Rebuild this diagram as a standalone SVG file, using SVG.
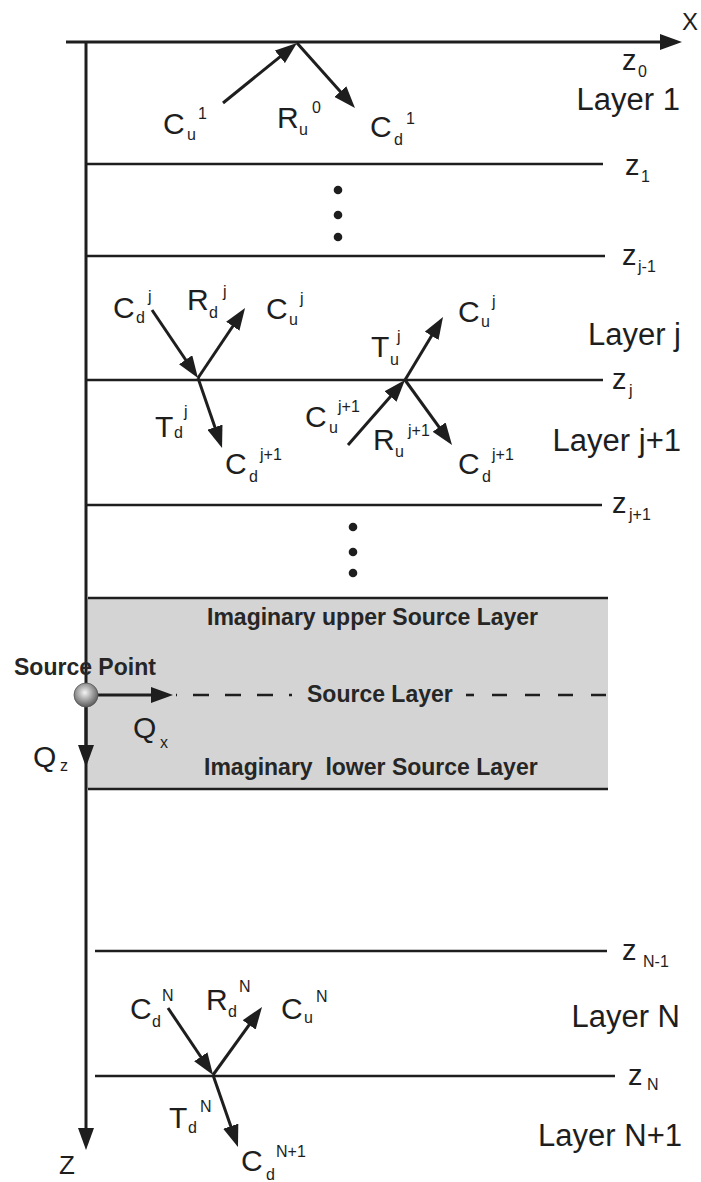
<svg xmlns="http://www.w3.org/2000/svg" width="701" height="1182" viewBox="0 0 701 1182">
<style>
  text { font-family: "Liberation Sans", Arial, sans-serif; fill: #1e1e1e; }
  .m { font-size: 30px; }
  .s { font-size: 16px; }
  .zl { font-size: 29px; }
  .lay { font-size: 31px; text-anchor: end; }
  .b { font-size: 23px; font-weight: bold; fill: #262626; }
  .ln { stroke: #1e1e1e; stroke-width: 2.6; fill: none; }
  .ar { stroke: #1e1e1e; stroke-width: 3; fill: none; marker-end: url(#ah); }
  .dot { fill: #1e1e1e; }
</style>
<defs>
  <marker id="ah" markerUnits="userSpaceOnUse" viewBox="0 0 22 16" markerWidth="22" markerHeight="16" refX="16" refY="8" orient="auto">
    <path d="M0,0 L22,8 L0,16 z" fill="#1e1e1e"/>
  </marker>
  <radialGradient id="ball" cx="0.45" cy="0.4" r="0.6">
    <stop offset="0" stop-color="#f4f4f4"/>
    <stop offset="0.5" stop-color="#a8a8a8"/>
    <stop offset="1" stop-color="#5a5a5a"/>
  </radialGradient>
</defs>
<rect width="701" height="1182" fill="#ffffff"/>

<g id="source-region">
  <rect x="86" y="598" width="522" height="191" fill="#d4d4d4"/>
  <line class="ln" x1="88" y1="598" x2="608" y2="598"/>
  <line class="ln" x1="88" y1="789" x2="608" y2="789"/>
  <line class="ln" x1="176" y1="695" x2="292" y2="695" stroke-dasharray="16 16" stroke-dashoffset="15"/>
  <line class="ln" x1="466" y1="695" x2="474" y2="695"/>
  <line class="ln" x1="492" y1="695" x2="608" y2="695" stroke-dasharray="15 18"/>
  <text class="b" x="207" y="625">Imaginary upper Source Layer</text>
  <text class="b" x="307" y="702">Source Layer</text>
  <text class="b" x="204" y="775" xml:space="preserve">Imaginary  lower Source Layer</text>
</g>

<g id="interfaces">
  <line class="ln" x1="86" y1="164" x2="603" y2="164"/>
  <line class="ln" x1="86" y1="256" x2="605" y2="256"/>
  <line class="ln" x1="86" y1="380" x2="603" y2="380"/>
  <line class="ln" x1="86" y1="505" x2="602" y2="505"/>
  <line class="ln" x1="95" y1="951" x2="607" y2="951"/>
  <line class="ln" x1="95" y1="1076" x2="615" y2="1076"/>
</g>

<g id="ellipsis">
  <circle class="dot" cx="338" cy="190" r="4.3"/>
  <circle class="dot" cx="338" cy="215" r="4.3"/>
  <circle class="dot" cx="338" cy="237" r="4.3"/>
  <circle class="dot" cx="353" cy="527" r="4.3"/>
  <circle class="dot" cx="353" cy="552" r="4.3"/>
  <circle class="dot" cx="353" cy="573" r="4.3"/>
</g>

<g id="connectors">
  <line class="ar" x1="66" y1="42" x2="676" y2="42"/>
  <line class="ar" x1="86" y1="42" x2="86" y2="1144"/>
  <line class="ar" x1="86" y1="707" x2="86" y2="761"/>
  <line class="ar" x1="97" y1="695" x2="167" y2="695"/>
  <line class="ar" x1="223" y1="103" x2="292.3" y2="46.8"/>
  <line class="ar" x1="297" y1="43" x2="351" y2="103.5"/>
  <line class="ar" x1="152" y1="310" x2="194.6" y2="373"/>
  <line class="ar" x1="198" y1="378" x2="241.7" y2="313"/>
  <line class="ar" x1="198" y1="378" x2="220.1" y2="442.3"/>
  <line class="ar" x1="348" y1="445" x2="401" y2="384.5"/>
  <line class="ar" x1="405" y1="380" x2="439.9" y2="322.1"/>
  <line class="ar" x1="405" y1="380" x2="448.5" y2="440.1"/>
  <line class="ar" x1="168" y1="1008" x2="209.7" y2="1070"/>
  <line class="ar" x1="213" y1="1075" x2="258.5" y2="1011.9"/>
  <line class="ar" x1="213" y1="1075" x2="236" y2="1141.3"/>
</g>

<g id="source-point">
  <circle cx="86" cy="695" r="12" fill="url(#ball)" stroke="#555" stroke-width="0.8"/>
  <text class="b" x="14" y="675">Source Point</text>
  <text><tspan class="m" x="133" y="738">Q</tspan><tspan class="s" x="160" y="748">x</tspan></text>
  <text><tspan class="m" x="33" y="767">Q</tspan><tspan class="s" x="60" y="771">z</tspan></text>
</g>

<g id="axis-labels">
  <text x="682" y="30" style="font-size:24px">X</text>
  <text x="59" y="1174" style="font-size:26px">Z</text>
</g>

<g id="depth-labels">
  <text><tspan class="zl" x="622" y="70">z</tspan><tspan class="s" x="638" y="77">0</tspan></text>
  <text><tspan class="zl" x="625" y="175">z</tspan><tspan class="s" x="641" y="182">1</tspan></text>
  <text><tspan class="zl" x="622" y="265">z</tspan><tspan class="s" x="638" y="272">j-1</tspan></text>
  <text><tspan class="zl" x="612" y="389">z</tspan><tspan class="s" x="629" y="396">j</tspan></text>
  <text><tspan class="zl" x="612" y="513">z</tspan><tspan class="s" x="629" y="520">j+1</tspan></text>
  <text><tspan class="zl" x="622" y="960">z</tspan><tspan class="s" x="643" y="967">N-1</tspan></text>
  <text><tspan class="zl" x="628" y="1085">z</tspan><tspan class="s" x="647" y="1090">N</tspan></text>
</g>

<g id="layer-labels">
  <text class="lay" x="680" y="110">Layer 1</text>
  <text class="lay" x="681" y="345">Layer j</text>
  <text class="lay" x="681" y="451">Layer j+1</text>
  <text class="lay" x="680" y="1027">Layer N</text>
  <text class="lay" x="682" y="1146">Layer N+1</text>
</g>

<g id="wave-labels-top">
  <text><tspan class="m" x="163" y="134">C</tspan><tspan class="s" x="187" y="140">u</tspan><tspan class="s" x="198" y="119">1</tspan></text>
  <text><tspan class="m" x="277" y="128">R</tspan><tspan class="s" x="299" y="135">u</tspan><tspan class="s" x="312" y="113">0</tspan></text>
  <text><tspan class="m" x="370" y="137">C</tspan><tspan class="s" x="394" y="145">d</tspan><tspan class="s" x="406" y="124">1</tspan></text>
</g>

<g id="wave-labels-j">
  <text><tspan class="m" x="113" y="318">C</tspan><tspan class="s" x="136" y="323">d</tspan><tspan class="s" x="148" y="302">j</tspan></text>
  <text><tspan class="m" x="187" y="310">R</tspan><tspan class="s" x="209" y="318">d</tspan><tspan class="s" x="223" y="297">j</tspan></text>
  <text><tspan class="m" x="266" y="319">C</tspan><tspan class="s" x="289" y="325">u</tspan><tspan class="s" x="300" y="304">j</tspan></text>
  <text><tspan class="m" x="155" y="437">T</tspan><tspan class="s" x="174" y="438">d</tspan><tspan class="s" x="184" y="417">j</tspan></text>
  <text><tspan class="m" x="225" y="474">C</tspan><tspan class="s" x="249" y="482">d</tspan><tspan class="s" x="260" y="460">j+1</tspan></text>
  <text><tspan class="m" x="371" y="357">T</tspan><tspan class="s" x="390" y="365">u</tspan><tspan class="s" x="397" y="342">j</tspan></text>
  <text><tspan class="m" x="458" y="322">C</tspan><tspan class="s" x="481" y="327">u</tspan><tspan class="s" x="492" y="307">j</tspan></text>
  <text><tspan class="m" x="305" y="427">C</tspan><tspan class="s" x="329" y="433">u</tspan><tspan class="s" x="338" y="412">j+1</tspan></text>
  <text><tspan class="m" x="373" y="450">R</tspan><tspan class="s" x="395" y="457">u</tspan><tspan class="s" x="408" y="436">j+1</tspan></text>
  <text><tspan class="m" x="458" y="474">C</tspan><tspan class="s" x="482" y="482">d</tspan><tspan class="s" x="492" y="460">j+1</tspan></text>
</g>

<g id="wave-labels-N">
  <text><tspan class="m" x="130" y="1019">C</tspan><tspan class="s" x="152" y="1027">d</tspan><tspan class="s" x="162" y="1001">N</tspan></text>
  <text><tspan class="m" x="206" y="1010">R</tspan><tspan class="s" x="228" y="1017">d</tspan><tspan class="s" x="239" y="992">N</tspan></text>
  <text><tspan class="m" x="281" y="1019">C</tspan><tspan class="s" x="304" y="1023">u</tspan><tspan class="s" x="316" y="1002">N</tspan></text>
  <text><tspan class="m" x="169" y="1128">T</tspan><tspan class="s" x="188" y="1133">d</tspan><tspan class="s" x="200" y="1112">N</tspan></text>
  <text><tspan class="m" x="241" y="1171">C</tspan><tspan class="s" x="266" y="1180">d</tspan><tspan class="s" x="276" y="1157">N+1</tspan></text>
</g>
</svg>
